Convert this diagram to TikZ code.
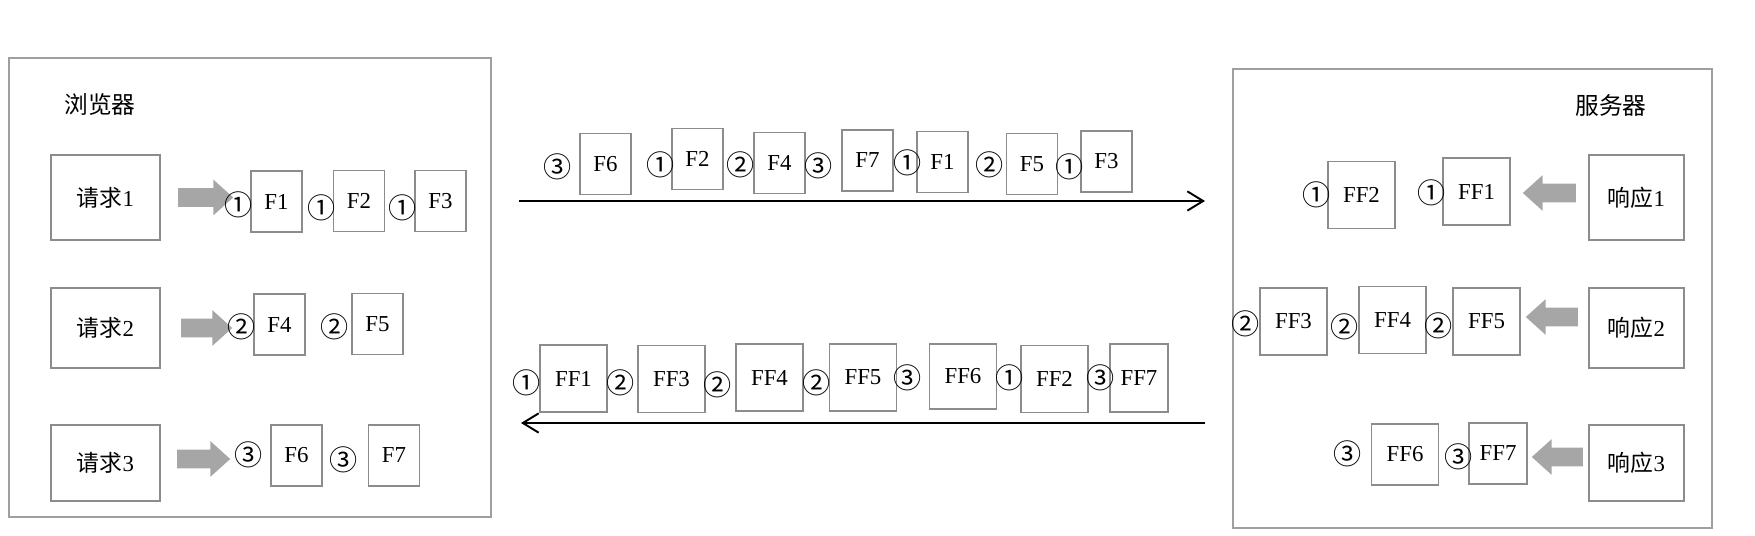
\documentclass[tikz,border=0pt]{standalone}
\usepackage{fontspec}
\setmainfont{Liberation Serif}
\newfontfamily\cjk{Noto Sans CJK SC}
\usepackage{tikz}
\usetikzlibrary{arrows.meta}
\usetikzlibrary{shapes.arrows}
\tikzset{basic/.style={draw=gray!90,line width=0.9pt,inner sep=0pt,font=\fontsize{13pt}{15pt}\selectfont}}
\tikzset{packet/.style={basic,minimum width=1.02cm,minimum height=1.22cm}}
\tikzset{bigpacket/.style={basic,minimum width=1.34cm,minimum height=1.34cm}}
\tikzset{host/.style={basic,minimum width=2.18cm,minimum height=1.7cm}}
\tikzset{reply/.style={basic,minimum width=1.9cm,minimum height=1.7cm}}
\tikzset{order/.style={inner sep=0pt,font=\cjk\fontsize{16pt}{18pt}\selectfont}}
\tikzset{title/.style={inner sep=0pt,font=\cjk\fontsize{13.5pt}{15pt}\selectfont}}
\tikzset{pushed/.style={single arrow,fill=gray!70,draw=none,inner xsep=0pt,inner ysep=0.18cm,
    single arrow head extend=0.17cm,single arrow tip angle=84,minimum height=1.1cm}}
\tikzset{panel/.style={draw=gray!75,line width=0.6pt}}
\tikzset{wire/.style={draw,line width=1.1pt,-{Straight Barb[length=9pt,width=11pt]}}}

\begin{document}
\begin{tikzpicture}[x=0.02cm,y=-0.02cm]
        \useasboundingbox (0,0) rectangle (1755,536);
        % browser side
        \draw[panel] (9,58) rectangle (491,517);
        \node[title] (browser) at (100,105) {浏览器};
        \node[host] (req1) at (105.5,197.5) {{\cjk 请求}1};
        \node[host,minimum height=1.6cm] (req2) at (105.5,328) {{\cjk 请求}2};
        \node[host,minimum height=1.52cm] (req3) at (105.5,463) {{\cjk 请求}3};
        \node[pushed] (push1) at (200.5,197.5) {};
        \node[pushed,minimum height=1.02cm] (push2) at (201.5,328) {};
        \node[pushed,minimum height=1.06cm] (push3) at (198.5,459) {};
        \node[packet] (lf1) at (276.5,201.5) {F1};
            \node[order] (ln1) at (239,205) {①};
        \node[packet] (lf2) at (359,201) {F2};
            \node[order] (ln2) at (322,208) {①};
        \node[packet] (lf3) at (440.5,201) {F3};
            \node[order] (ln3) at (403,208) {①};
        \node[packet] (lf4) at (279.5,324.5) {F4};
            \node[order] (ln4) at (242,327) {②};
        \node[packet] (lf5) at (377.5,324) {F5};
            \node[order] (ln5) at (335,327) {②};
        \node[packet] (lf6) at (296.5,455.5) {F6};
            \node[order] (ln6) at (249,455) {③};
        \node[packet] (lf7) at (394,455.5) {F7};
            \node[order] (ln7) at (344,460) {③};
        % requests on the way up
        \coordinate (upstart) at (519,201);
        \coordinate (upend) at (1205,201);
            \path[wire] (upstart) -- (upend);
        \node[packet] (uf6) at (605.5,164) {F6};
            \node[order] (un6) at (558,167) {③};
        \node[packet] (uf2) at (697.5,159) {F2};
            \node[order] (un2) at (661,165) {①};
        \node[packet] (uf4) at (779.5,163) {F4};
            \node[order] (un4) at (741,165) {②};
        \node[packet] (uf7) at (867.5,160.5) {F7};
            \node[order] (un7) at (819,166) {③};
        \node[packet] (uf1) at (942.5,162) {F1};
            \node[order] (un1) at (908,163) {①};
        \node[packet] (uf5) at (1032,164) {F5};
            \node[order] (un5) at (990,165) {②};
        \node[packet] (uf3) at (1106.5,161.5) {F3};
            \node[order] (un3) at (1070,167) {①};
        % responses on the way back
        \coordinate (downstart) at (1205,423);
        \coordinate (downend) at (521,423);
            \path[wire] (downstart) -- (downend);
        \node[bigpacket] (dff1) at (573.5,378.5) {FF1};
            \node[order] (dn1) at (527,383) {①};
        \node[bigpacket] (dff3) at (671.5,379) {FF3};
            \node[order] (dn3) at (621,383) {②};
        \node[bigpacket] (dff4) at (769.5,377.5) {FF4};
            \node[order] (dn4) at (718,385) {②};
        \node[bigpacket] (dff5) at (863,377.5) {FF5};
            \node[order] (dn5) at (817,383) {②};
        \node[bigpacket,minimum height=1.3cm] (dff6) at (963,376.5) {FF6};
            \node[order] (dn6) at (908,378) {③};
        \node[bigpacket] (dff2) at (1054.5,379) {FF2};
            \node[order] (dn2) at (1010,378) {①};
        \node[bigpacket,minimum width=1.16cm,minimum height=1.36cm] (dff7) at (1139,378) {FF7};
            \node[order] (dn7) at (1101,378) {③};
        % server side
        \draw[panel] (1233,69) rectangle (1712,528);
        \node[title] (server) at (1611,105) {服务器};
        \node[reply] (res1) at (1636.5,197.5) {{\cjk 响应}1};
        \node[reply,minimum height=1.6cm] (res2) at (1636.5,328) {{\cjk 响应}2};
        \node[reply,minimum height=1.52cm] (res3) at (1636.5,463) {{\cjk 响应}3};
        \node[pushed,shape border rotate=180,minimum height=1.06cm] (back1) at (1554.5,193) {};
        \node[pushed,shape border rotate=180,minimum height=1.04cm] (back2) at (1557,317) {};
        \node[pushed,shape border rotate=180,minimum height=1.02cm] (back3) at (1562.5,457) {};
        \node[bigpacket] (rff1) at (1476.5,191.5) {FF1};
            \node[order] (rn1) at (1432,193) {①};
        \node[bigpacket] (rff2) at (1361.5,195) {FF2};
            \node[order] (rn2) at (1317,195) {①};
        \node[bigpacket] (rff3) at (1293.5,321.5) {FF3};
            \node[order] (rn3) at (1246,324) {②};
        \node[bigpacket] (rff4) at (1392.5,320) {FF4};
            \node[order] (rn4) at (1345,327) {②};
        \node[bigpacket] (rff5) at (1486.5,321.5) {FF5};
            \node[order] (rn5) at (1439,326) {②};
        \node[bigpacket,minimum height=1.22cm] (rff6) at (1405,454.5) {FF6};
            \node[order] (rn6) at (1348,454) {③};
        \node[bigpacket,minimum width=1.16cm,minimum height=1.22cm] (rff7) at (1498,453.5) {FF7};
            \node[order] (rn7) at (1459,457) {③};
    \end{tikzpicture}
\end{document}
